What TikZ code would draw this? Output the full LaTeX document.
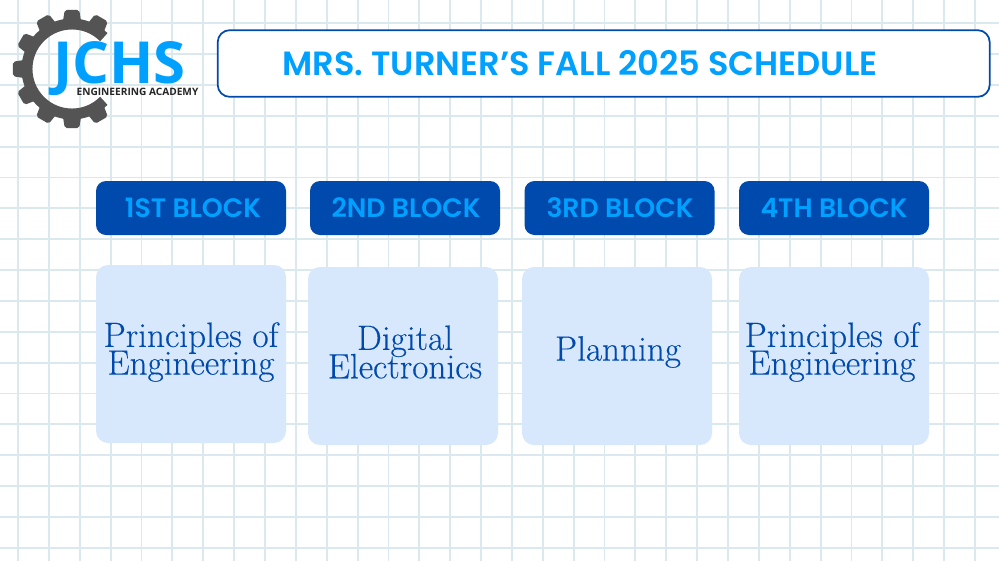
\documentclass[tikz,border=0pt]{standalone}
\usepackage{fontspec}
\newfontfamily\logofont{Open Sans}
\newfontfamily\blockfont{Poppins SemiBold}
\newfontfamily\coursefont[FakeBold=0.25]{Latin Modern Roman}
\definecolor{gridcol}{HTML}{DAE9EE}
\definecolor{navycol}{HTML}{004AAD}
\definecolor{skycol}{HTML}{00A0FF}
\definecolor{palecol}{HTML}{D7E8FD}
\definecolor{gearcol}{HTML}{545454}
\tikzset{
  blockhead/.style={fill=navycol,rounded corners=7.5pt,minimum width=142.5pt,minimum height=40.5pt,inner sep=0pt},
  blocktext/.style={text=skycol,font=\blockfont\fontsize{20}{24}\selectfont,inner sep=0pt},
  coursebox/.style={fill=palecol,rounded corners=9pt,minimum width=142.5pt,minimum height=133.5pt,inner sep=0pt},
  coursetext/.style={text=navycol,align=center,inner sep=0pt,font=\coursefont\fontsize{26.4}{20.5}\selectfont}
}
\begin{document}
\begin{tikzpicture}[x=0.75pt,y=-0.75pt]
  \useasboundingbox (0,0) rectangle (999,561);
  \fill[white] (0,0) rectangle (999,561);

  % grid lines of the page
  \foreach \i in {0,...,31}
    \draw[gridcol,line width=1.4pt] ({18+30.87*\i},0) -- ({18+30.87*\i},561);
  \foreach \j in {0,...,17}
    \draw[gridcol,line width=1.4pt] (0,{23.3+30.85*\j}) -- (999,{23.3+30.85*\j});

  % gear of the logo
  \begin{scope}[shift={(72,69)}]
    \draw[gearcol,line width=8.2pt] (45:45) arc (45:315:45);
    \foreach \a in {60,90,...,300}
      \fill[gearcol,rounded corners=1.5pt] ({\a-11}:48) -- ({\a-7}:59.5) -- ({\a+7}:59.5) -- ({\a+11}:48) -- cycle;
  \end{scope}

  % logo text
  \node[text=skycol,inner sep=0pt,font=\logofont\bfseries\fontsize{43.5}{44}\selectfont] (jchs) at (119.5,69) {JCHS};
  \node[text=black!85,inner sep=0pt,font=\logofont\bfseries\fontsize{7.6}{9}\selectfont] (academy) at (137.5,92) {ENGINEERING ACADEMY};

  % title
  \node[draw=navycol,line width=1.3pt,fill=white,rounded corners=9pt,minimum width=579pt,minimum height=50pt,inner sep=0pt] (titlebox) at (603.7,63.5) {};
  \node[text=skycol,inner sep=0pt,font=\blockfont\fontsize{25.2}{30}\selectfont] (title) at (580,63) {MRS. TURNER’S FALL 2025 SCHEDULE};

  % block headers
  \node[blockhead] (headone) at (191,208) {};
  \node[blockhead] (headtwo) at (405,208) {};
  \node[blockhead] (headthree) at (619.5,208) {};
  \node[blockhead] (headfour) at (834,208) {};
  \node[blocktext] (labelone) at (193,208) {1ST BLOCK};
  \node[blocktext] at (406,208) (labeltwo) {2ND BLOCK};
  \node[blocktext] at (620,208) (labelthree) {3RD BLOCK};
  \node[blocktext] at (834,208) (labelfour) {4TH BLOCK};

  % course boxes
  \node[coursebox] (courseone) at (191,354) {};
  \node[coursebox] (coursetwo) at (403,356) {};
  \node[coursebox] (coursethree) at (617,356) {};
  \node[coursebox] (coursefour) at (834,356) {};
  \node[coursetext] (nameone) at (191,352) {Principles of\\[-3.4pt]Engineering};
  \node[coursetext] (nametwo) at (405,352) {Digital\\[-3.4pt]Electronics};
  \node[coursetext] (namethree) at (618,352) {Planning};
  \node[coursetext] (namefour) at (832,352) {Principles of\\[-3.4pt]Engineering};
\end{tikzpicture}
\end{document}
